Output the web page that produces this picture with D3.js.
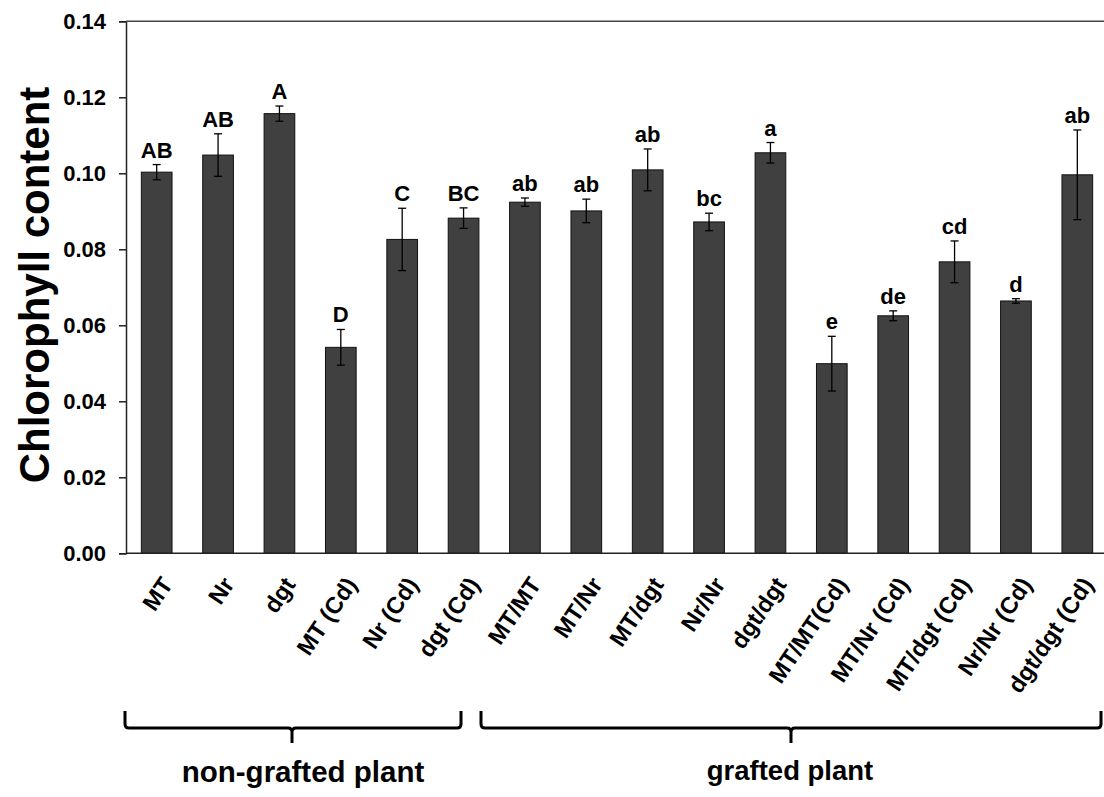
<!DOCTYPE html>
<html>
<head>
<meta charset="utf-8">
<script src="https://cdn.jsdelivr.net/npm/d3@7"></script>
<style>
  html, body { margin: 0; padding: 0; background: #fff; }
  svg { display: block; font-family: Arial, "Liberation Sans", sans-serif; font-weight: bold; }
</style>
</head>
<body>
<svg id="chart" width="1104" height="797"></svg>
<script>
// Treatments (non-grafted then grafted scion/rootstock combinations)
const categories = ["MT", "Nr", "dgt", "MT (Cd)", "Nr (Cd)", "dgt (Cd)",
  "MT/MT", "MT/Nr", "MT/dgt", "Nr/Nr", "dgt/dgt",
  "MT/MT(Cd)", "MT/Nr (Cd)", "MT/dgt (Cd)", "Nr/Nr (Cd)", "dgt/dgt (Cd)"];
// Mean chlorophyll content
const means = [0.1003, 0.1048, 0.1157, 0.0542, 0.0826, 0.0882,
  0.0924, 0.0901, 0.1009, 0.0872, 0.1054,
  0.0499, 0.0625, 0.0767, 0.0664, 0.0996];
// Standard errors
const errors = [0.0020, 0.0056, 0.0020, 0.0047, 0.0082, 0.0027,
  0.0011, 0.0031, 0.0055, 0.0023, 0.0027,
  0.0072, 0.0013, 0.0055, 0.0006, 0.0118];
// Significance letters
const letters = ["AB", "AB", "A", "D", "C", "BC",
  "ab", "ab", "ab", "bc", "a",
  "e", "de", "cd", "d", "ab"];
const yTicks = [0, 0.02, 0.04, 0.06, 0.08, 0.10, 0.12, 0.14];
const groupLabels = ["non-grafted plant", "grafted plant"];

const svg = d3.select("#chart");
const plotLeft = 126, plotRight = 1108, plotTop = 21.3, plotBottom = 553.3;

const x = d3.scaleBand().domain(categories).range([plotLeft, plotRight])
  .paddingInner(0.5).paddingOuter(0.25);
const y = d3.scaleLinear().domain([0, 0.14]).range([plotBottom, plotTop]);

// Bars
svg.append("g").selectAll("rect").data(categories).join("rect")
  .attr("x", d => x(d))
  .attr("y", (d, i) => y(means[i]))
  .attr("width", x.bandwidth())
  .attr("height", (d, i) => y(0) - y(means[i]))
  .attr("fill", "#404040")
  .attr("stroke", "#111")
  .attr("stroke-width", 1);

// Error bars
const eb = svg.append("g").attr("stroke", "#000").attr("stroke-width", 1.3);
categories.forEach((c, i) => {
  const cx = x(c) + x.bandwidth() / 2;
  const y1 = y(means[i] + errors[i]), y2 = y(means[i] - errors[i]);
  eb.append("line").attr("x1", cx).attr("x2", cx).attr("y1", y1).attr("y2", y2);
  eb.append("line").attr("x1", cx - 4).attr("x2", cx + 4).attr("y1", y1).attr("y2", y1);
  eb.append("line").attr("x1", cx - 4).attr("x2", cx + 4).attr("y1", y2).attr("y2", y2);
});

// Significance letters above error bars
svg.append("g").selectAll("text").data(categories).join("text")
  .attr("x", d => x(d) + x.bandwidth() / 2)
  .attr("y", (d, i) => y(means[i] + errors[i]) - 7)
  .attr("text-anchor", "middle")
  .attr("font-size", 22)
  .attr("fill", "#000")
  .text((d, i) => letters[i]);

// Y axis
const yAxis = svg.append("g").attr("transform", `translate(${plotLeft},0)`)
  .call(d3.axisLeft(y).tickValues(yTicks).tickFormat(d3.format(".2f")).tickSizeOuter(0).tickSize(7).tickPadding(13));
yAxis.select(".domain").attr("stroke", "#222").attr("stroke-width", 1.5);
yAxis.selectAll(".tick line").attr("stroke", "#222").attr("stroke-width", 1.5);
yAxis.selectAll(".tick text").attr("font-size", 22).attr("font-weight", "bold")
  .attr("font-family", "Arial, 'Liberation Sans', sans-serif").attr("fill", "#000");

// Bottom and top frame lines
svg.append("line").attr("x1", plotLeft).attr("x2", plotRight).attr("y1", y(0)).attr("y2", y(0))
  .attr("stroke", "#222").attr("stroke-width", 1.5);
svg.append("line").attr("x1", plotLeft).attr("x2", plotRight).attr("y1", y(0.14)).attr("y2", y(0.14))
  .attr("stroke", "#444").attr("stroke-width", 1.5);

// Rotated category labels
svg.append("g").selectAll("text").data(categories).join("text")
  .attr("transform", d => `translate(${x(d) + x.bandwidth() / 2 + 3},575) rotate(-56)`)
  .attr("text-anchor", "end")
  .attr("dy", "0.72em")
  .attr("font-size", 23.5)
  .attr("fill", "#000")
  .text(d => d);

// Y axis title
svg.append("text")
  .attr("transform", "translate(49,285) rotate(-90)")
  .attr("text-anchor", "middle")
  .attr("font-size", 42)
  .attr("fill", "#000")
  .text("Chlorophyll content");

// Group brackets
const brackets = [
  { x0: 125, x1: 461, mid: 292, tx: 303, ty: 782, fs: 29.5 },
  { x0: 481, x1: 1101, mid: 791, tx: 790, ty: 780, fs: 27.5 }
];
const yTopB = 711, yLine = 728, yTip = 743, r = 4;
brackets.forEach((b, i) => {
  const p = d3.path();
  p.moveTo(b.x0, yTopB);
  p.lineTo(b.x0, yLine - r);
  p.quadraticCurveTo(b.x0, yLine, b.x0 + r, yLine);
  p.lineTo(b.mid - r, yLine);
  p.quadraticCurveTo(b.mid, yLine, b.mid, yLine + r);
  p.lineTo(b.mid, yTip);
  p.moveTo(b.mid, yLine + r);
  p.quadraticCurveTo(b.mid, yLine, b.mid + r, yLine);
  p.lineTo(b.x1 - r, yLine);
  p.quadraticCurveTo(b.x1, yLine, b.x1, yLine - r);
  p.lineTo(b.x1, yTopB);
  svg.append("path").attr("d", p.toString()).attr("fill", "none")
    .attr("stroke", "#000").attr("stroke-width", 3);
  svg.append("text").attr("x", b.tx).attr("y", b.ty)
    .attr("text-anchor", "middle").attr("font-size", b.fs).attr("fill", "#000")
    .text(groupLabels[i]);
});
</script>
</body>
</html>
